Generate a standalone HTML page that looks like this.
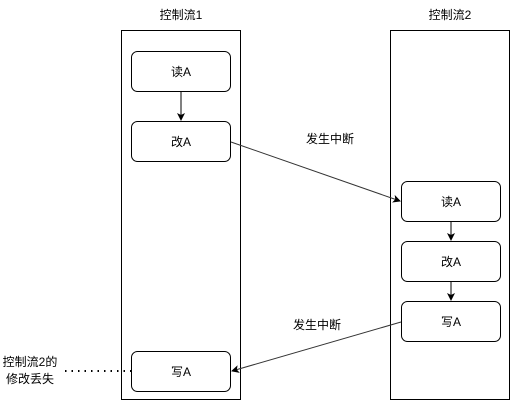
<!DOCTYPE html>
<html><head><meta charset="utf-8"><style>body{margin:0;background:#fff}</style></head><body>
<svg width="511" height="401" xmlns="http://www.w3.org/2000/svg" font-family="Liberation Sans, Noto Sans CJK SC, sans-serif" font-size="12">
<defs><marker id="a" markerWidth="8" markerHeight="8" refX="7" refY="4" orient="auto" markerUnits="userSpaceOnUse"><path d="M0,0 L8,4 L0,8 L2,4z" fill="#000"/></marker></defs>
<rect x="121.5" y="30.5" width="119" height="369" fill="#fff" stroke="#000"/>
<rect x="390.5" y="30.5" width="119" height="369" fill="#fff" stroke="#000"/>
<text x="181" y="19" text-anchor="middle">控制流1</text>
<text x="450" y="19" text-anchor="middle">控制流2</text>
<g fill="#fff" stroke="#000">
<rect x="131.5" y="51.5" width="99" height="40" rx="6"/>
<rect x="131.5" y="121.5" width="99" height="40" rx="6"/>
<rect x="131.5" y="351.5" width="99" height="40" rx="6"/>
<rect x="401.5" y="181.5" width="99" height="40" rx="6"/>
<rect x="401.5" y="241.5" width="99" height="40" rx="6"/>
<rect x="401.5" y="301.5" width="99" height="40" rx="6"/>
</g>
<g text-anchor="middle">
<text x="181" y="76">读A</text><text x="181" y="146">改A</text><text x="181" y="376">写A</text>
<text x="451" y="206">读A</text><text x="451" y="266">改A</text><text x="451" y="326">写A</text>
<text x="330" y="143">发生中断</text><text x="317" y="329">发生中断</text>
<text x="30" y="366">控制流2的</text><text x="30" y="383">修改丢失</text>
</g>
<g stroke="#000" marker-end="url(#a)">
<line x1="181" y1="92" x2="181" y2="120"/>
<line x1="451" y1="222" x2="451" y2="240"/>
<line x1="451" y1="282" x2="451" y2="300"/>
</g>
<g stroke="#333" marker-end="url(#a)">
<line x1="231" y1="142" x2="400" y2="201"/>
<line x1="401" y1="322" x2="232" y2="371"/>
</g>
<line x1="65" y1="371" x2="131" y2="371" stroke="#000" stroke-width="2" stroke-dasharray="1.5,5"/>
</svg>
</body></html>
